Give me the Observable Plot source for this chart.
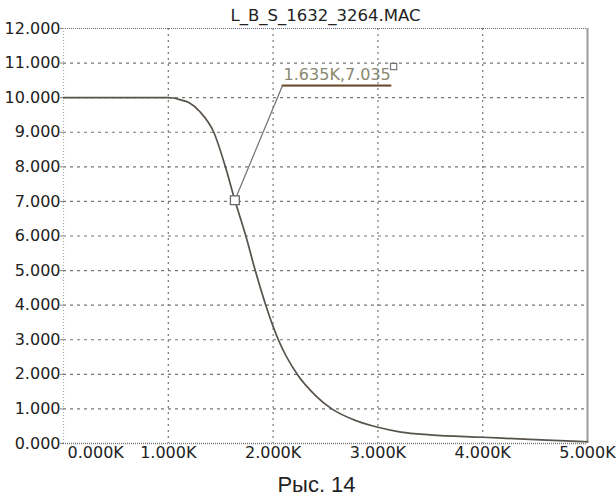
<!DOCTYPE html>
<html>
<head>
<meta charset="utf-8">
<script src="https://cdn.jsdelivr.net/npm/d3@7"></script>
<script src="https://cdn.jsdelivr.net/npm/@observablehq/plot@0.6"></script>
<style>
  html, body { margin: 0; padding: 0; background: #fff; }
  #chart svg { display: block; }
</style>
</head>
<body>
<div id="chart"></div>
<script>
// --- data ---
const titleText = "L_B_S_1632_3264.MAC";
const captionText = "Рыс. 14";
const xTicks = [1, 2, 3, 4, 5];
const xFirstTick = [0];
const yTicks = [0, 1, 2, 3, 4, 5, 6, 7, 8, 9, 10, 11, 12];
const gridX = [1, 2, 3, 4];
const gridY = [1, 2, 3, 4, 5, 6, 7, 8, 9, 10, 11];

const curveX = [0, 0.5, 1.0, 1.05, 1.1, 1.2, 1.3, 1.434, 1.545, 1.635, 1.74, 1.83, 1.93, 2.05, 2.23, 2.4, 2.56, 2.8, 3.0, 3.22, 3.5, 4.0, 4.5, 5.0];
const curveY = [10, 10, 10, 9.99, 9.95, 9.85, 9.6, 9.0, 8.0, 7.035, 6.0, 5.0, 4.0, 3.0, 2.0, 1.4, 1.0, 0.65, 0.47, 0.33, 0.25, 0.18, 0.11, 0.05];

const markerX = [1.635];
const markerY = [7.035];
const labelText = ["1.635K,7.035"];
const leaderX = [1.635, 2.09, 3.12];
const leaderY = [7.035, 10.35, 10.35];
const handleX = [3.15];
const handleY = [10.9];

const curve = curveX.map((x, i) => ({x, y: curveY[i]}));
const leader = leaderX.map((x, i) => ({x, y: leaderY[i]}));
const underline = leader.slice(1);
const markers = markerX.map((x, i) => ({x, y: markerY[i]}));
const handles = handleX.map((x, i) => ({x, y: handleY[i]}));
const labels = [{x: leaderX[1] + 0.01, y: 10.5, text: labelText[0]}];

const fmtX = d => d.toFixed(3) + "K";

const chart = Plot.plot({
  width: 616,
  height: 497,
  marginLeft: 63,
  marginRight: 29,
  marginTop: 28,
  marginBottom: 54,
  style: {fontFamily: "DejaVu Sans", fontSize: "16px", color: "#222", background: "#fff", overflow: "visible"},
  x: {domain: [0, 5]},
  y: {domain: [0, 12]},
  marks: [
    Plot.ruleY(gridY, {stroke: "#777", strokeWidth: 1.2, strokeDasharray: "3,4"}),
    Plot.ruleX(gridX, {stroke: "#777", strokeWidth: 1.2, strokeDasharray: "2,4"}),
    Plot.ruleY([12], {stroke: "#667", strokeWidth: 1.2, strokeDasharray: "1,1"}),
    Plot.ruleY([0], {stroke: "#777", strokeWidth: 1.4, strokeDasharray: "1,1"}),
    Plot.ruleX([0], {stroke: "#aaa", strokeWidth: 1.2, strokeDasharray: "1,2"}),
    Plot.ruleX([5], {stroke: "#999", strokeWidth: 2}),
    Plot.axisY({ticks: yTicks, tickFormat: d => d.toFixed(3), tickSize: 3, tickPadding: 0, label: null, stroke: "#888", fontSize: 16}),
    Plot.axisX({ticks: xTicks, tickFormat: fmtX, tickSize: 0, tickPadding: 3, label: null, fontSize: 16}),
    Plot.axisX({ticks: xFirstTick, tickFormat: fmtX, tickSize: 0, tickPadding: 3, label: null, fontSize: 16, textAnchor: "start", dx: 4}),
    Plot.line(curve, {x: "x", y: "y", stroke: "#58524c", strokeWidth: 1.7, curve: "monotone-x"}),
    Plot.line(leader, {x: "x", y: "y", stroke: "#777", strokeWidth: 1.3}),
    Plot.line(underline, {x: "x", y: "y", stroke: "#6a4a2a", strokeWidth: 2}),
    Plot.dot(markers, {x: "x", y: "y", symbol: "square", r: 5, fill: "#fff", stroke: "#666", strokeWidth: 1.3}),
    Plot.dot(handles, {x: "x", y: "y", symbol: "square", r: 3.5, fill: "#fff", stroke: "#777", strokeWidth: 1.2}),
    Plot.text(labels, {x: "x", y: "y", text: "text", textAnchor: "start", lineAnchor: "bottom", fill: "#8a8870", fontSize: 16}),
    Plot.text([titleText], {frameAnchor: "top", lineAnchor: "bottom", dy: -8, fontSize: 16.5, fill: "#222"}),
    Plot.text([captionText], {frameAnchor: "bottom", lineAnchor: "bottom", dy: 48, dx: -9, fontSize: 22, fontFamily: "Liberation Sans", fill: "#222"})
  ]
});
document.getElementById("chart").append(chart);
</script>
</body>
</html>
